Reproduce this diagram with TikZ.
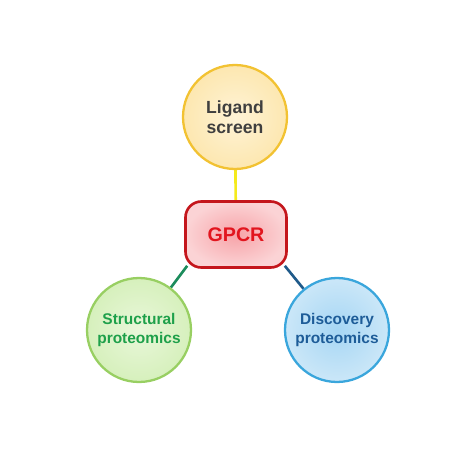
\documentclass[tikz,border=0pt]{standalone}
\usepackage{fontspec}
\setmainfont{Liberation Sans}
\pgfdeclarelayer{background}
\pgfsetlayers{background,main}
\definecolor{ligfill}{HTML}{FDE7B0}
\definecolor{ligin}{HTML}{FEF3D6}
\definecolor{ligline}{HTML}{F2C232}
\definecolor{ligtext}{HTML}{3F3F3F}
\definecolor{gpin}{HTML}{F7A3A8}
\definecolor{gpfill}{HTML}{FBD3D5}
\definecolor{gpline}{HTML}{C4161C}
\definecolor{gptext}{HTML}{E2151E}
\definecolor{stfill}{HTML}{D6F0BC}
\definecolor{stin}{HTML}{E9F7DA}
\definecolor{stline}{HTML}{98CF62}
\definecolor{sttext}{HTML}{1EA04A}
\definecolor{dsfill}{HTML}{CBE7F8}
\definecolor{dsin}{HTML}{A6D6F4}
\definecolor{dsline}{HTML}{3AA6DC}
\definecolor{dstext}{HTML}{1D5C98}
\definecolor{yelink}{HTML}{F4EA1C}
\definecolor{grlink}{HTML}{1C8C5C}
\definecolor{bllink}{HTML}{1F5A8A}
\tikzset{
  topic/.style={circle, minimum size=2.08cm, line width=1.3pt, align=center,
    font=\fontsize{8.8}{10.6}\selectfont\bfseries, inner sep=0pt},
  link/.style={line width=1.5pt},
}
\begin{document}
\begin{tikzpicture}[x=0.02cm,y=-0.02cm]
\useasboundingbox (0,0) rectangle (460,460);
\node[topic, draw=ligline, inner color=ligin, outer color=ligfill, text=ligtext,
  font=\fontsize{10}{11.6}\selectfont\bfseries] (L) at (235,117) {Ligand\\screen};
\node[rounded corners=9pt, minimum width=2.02cm, minimum height=1.32cm, line width=1.5pt,
  draw=gpline, inner color=gpin, outer color=gpfill, text=gptext,
  font=\fontsize{11.2}{13}\selectfont\bfseries] (G) at (236,234.5) {GPCR};
\node[topic, draw=stline, inner color=stin, outer color=stfill, text=sttext] (S) at (139,330) {Structural\\proteomics};
\node[topic, draw=dsline, inner color=dsin, outer color=dsfill, text=dstext] (D) at (337,330) {Discovery\\proteomics};

\path (G.south west) ++(3,-3) coordinate (gsw);
\path (G.south east) ++(-3,-3) coordinate (gse);

\begin{pgfonlayer}{background}
\draw[link, yelink] (L) -- (G);
\draw[link, grlink] (gsw) -- (S);
\draw[link, bllink] (gse) -- (D);
\end{pgfonlayer}
\end{tikzpicture}
\end{document}
